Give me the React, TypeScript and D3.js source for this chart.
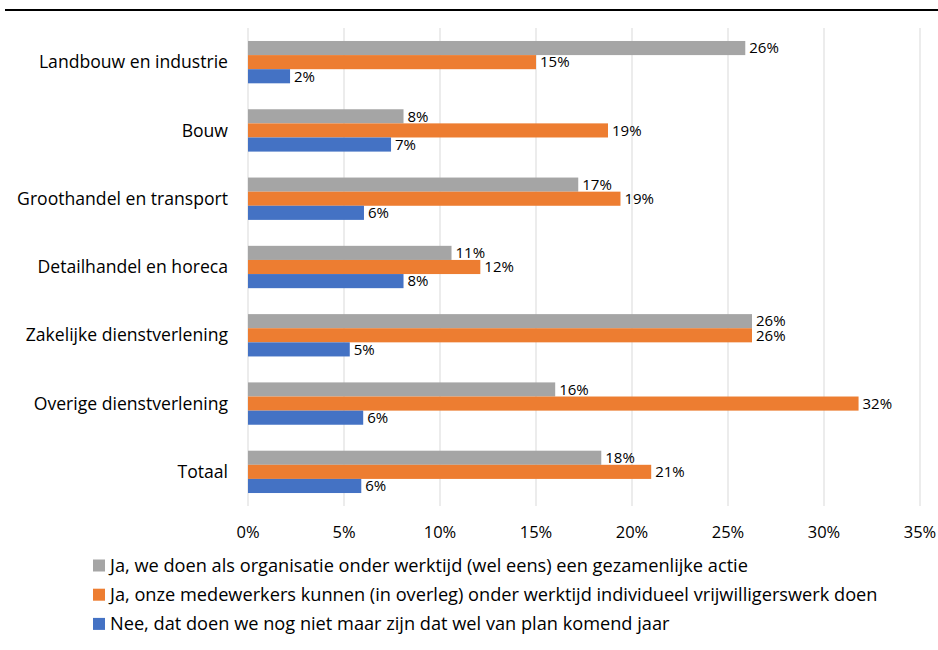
import React from "react";
import * as d3 from "d3";

const categories = [
  "Landbouw en industrie",
  "Bouw",
  "Groothandel en transport",
  "Detailhandel en horeca",
  "Zakelijke dienstverlening",
  "Overige dienstverlening",
  "Totaal",
];
const seriesNames = [
  "Ja, we doen als organisatie onder werktijd (wel eens) een gezamenlijke actie",
  "Ja, onze medewerkers kunnen (in overleg) onder werktijd individueel vrijwilligerswerk doen",
  "Nee, dat doen we nog niet maar zijn dat wel van plan komend jaar",
];
const seriesColors = ["#a5a5a5", "#ed7d31", "#4472c4"];
const gezamenlijk = [0.259, 0.081, 0.172, 0.106, 0.2625, 0.16, 0.184];
const individueel = [0.15, 0.1875, 0.194, 0.121, 0.2625, 0.318, 0.21];
const vanPlan = [0.0219, 0.0745, 0.0604, 0.081, 0.053, 0.06, 0.059];
const xTicks = [0, 0.05, 0.1, 0.15, 0.2, 0.25, 0.3, 0.35];

const W = 938;
const H = 650;
const FONT = "Open Sans, sans-serif";

export default function App() {
  const series = [gezamenlijk, individueel, vanPlan];
  const x = d3.scaleLinear().domain([0, 0.35]).range([248, 920]);
  const y = d3
    .scaleBand<string>()
    .domain(categories)
    .range([28, 506])
    .paddingInner(0.38)
    .paddingOuter(0.19);
  const inner = d3
    .scaleBand<number>()
    .domain([0, 1, 2])
    .range([0, y.bandwidth()]);
  const fmt = d3.format(".0%");

  return (
    <div style={{ position: "absolute", left: 0, top: 0 }}>
      <svg width={W} height={H} style={{ display: "block", background: "#fff" }} fontFamily={FONT}>
        <line x1={5} x2={938} y1={10} y2={10} stroke="#000" strokeWidth={2} />
        {xTicks.map((t) => (
          <line key={t} x1={x(t)} x2={x(t)} y1={28} y2={506} stroke="#d9d9d9" strokeWidth={1} />
        ))}
        {xTicks.map((t) => (
          <text key={"l" + t} x={x(t)} y={532} dy="0.35em" textAnchor="middle" fontSize={16.5} fill="#000">
            {fmt(t)}
          </text>
        ))}
        {categories.map((c) => (
          <text
            key={c}
            x={228}
            y={(y(c) as number) + y.bandwidth() / 2}
            dy="0.35em"
            textAnchor="end"
            fontSize={17.6}
            fill="#000"
          >
            {c}
          </text>
        ))}
        {series.map((vals, si) =>
          vals.map((v, ci) => {
            const yy = (y(categories[ci]) as number) + (inner(si) as number);
            return (
              <g key={si + "-" + ci}>
                <rect
                  x={x(0)}
                  y={yy}
                  width={x(v) - x(0)}
                  height={inner.bandwidth()}
                  fill={seriesColors[si]}
                />
                <text
                  x={x(v) + 4}
                  y={yy + inner.bandwidth() / 2}
                  dy="0.35em"
                  fontSize={15}
                  fill="#000"
                >
                  {fmt(Math.round(v * 100) / 100)}
                </text>
              </g>
            );
          })
        )}
        {seriesNames.map((n, i) => (
          <g key={n} transform={`translate(93, ${565.5 + i * 29.2})`}>
            <rect x={0} y={-6} width={12} height={12} fill={seriesColors[i]} />
            <text x={17} y={0} dy="0.35em" fontSize={18.2} fill="#000">
              {n}
            </text>
          </g>
        ))}
      </svg>
    </div>
  );
}
